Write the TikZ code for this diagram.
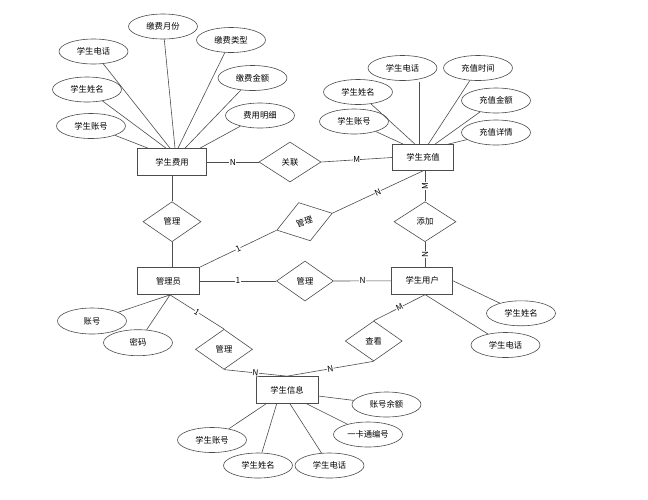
\documentclass[tikz,border=0pt]{standalone}
\usepackage{fontspec}
\setmainfont{Noto Sans CJK SC}
\usetikzlibrary{shapes.geometric}
\begin{document}
\begin{tikzpicture}[x=1pt,y=-1pt,
  every node/.style={font=\fontsize{8.3}{10}\selectfont},
  ent/.style={draw=black!70, line width=0.7pt, minimum width=62pt, minimum height=27pt, inner sep=0pt},
  attr/.style={ellipse, draw=black!70, line width=0.6pt, minimum width=69pt, minimum height=25pt, inner sep=0pt},
  rel/.style={diamond, draw=black!70, line width=0.6pt, minimum width=58pt, minimum height=40pt, inner sep=0pt},
  conn/.style={draw=black!70, line width=0.6pt},
  card/.style={inner sep=0.3pt, fill=white}
]
\useasboundingbox (0,0) rectangle (648,499);
% ---------- 学生费用 ----------
\node[ent, minimum width=69pt] (fee) at (172,162) {学生费用};
\node[attr] (f1) at (163,26.5) {缴费月份};
\node[attr] (f2) at (231,40) {缴费类型};
\node[attr] (f3) at (93.5,51.5) {学生电话};
\node[attr] (f4) at (87,89.5) {学生姓名};
\node[attr] (f5) at (252.5,78) {缴费金额};
\node[attr] (f6) at (91,126) {学生账号};
\node[attr] (f7) at (260,115.5) {费用明细};
\draw[conn] ([xshift=-24pt]fee.north) -- (f6);
\draw[conn] ([xshift=-6pt]fee.north) -- (f4);
\draw[conn] ([xshift=-2pt]fee.north) -- (f3);
\draw[conn] ([xshift=3pt]fee.north) -- (f1);
\draw[conn] ([xshift=6pt]fee.north) -- (f2);
\draw[conn] ([xshift=13pt]fee.north) -- (f5);
\draw[conn] ([xshift=28pt]fee.north) -- (f7);
% ---------- 关联 ----------
\node[rel, minimum width=62pt] (gl) at (290,162) {关联};
% ---------- 学生充值 ----------
\node[ent, minimum width=61pt, minimum height=26pt] (chz) at (423,157.5) {学生充值};
\node[attr] (c1) at (402.5,68) {学生电话};
\node[attr] (c2) at (478,68) {充值时间};
\node[attr] (c3) at (358,92) {学生姓名};
\node[attr] (c4) at (496,100.5) {充值金额};
\node[attr] (c5) at (354,121.5) {学生账号};
\node[attr] (c6) at (496,132.5) {充值详情};
\draw[conn] ([xshift=-19.7pt]chz.north) -- (c5);
\draw[conn] ([xshift=-8pt]chz.north) -- (c3);
\draw[conn] ([xshift=-3.7pt]chz.north) -- ([xshift=-3.7pt,yshift=-1.5pt]chz.north |- c1.south);
\draw[conn] ([xshift=5.3pt]chz.north) -- (c2);
\draw[conn] ([xshift=12pt]chz.north) -- (c4);
\draw[conn] ([xshift=25.3pt]chz.north) -- (c6);
\draw[conn] (fee.east) -- (gl.west) node[card, pos=0.5] {N};
\draw[conn] (gl.east) -- (chz.west) node[card, pos=0.5] {M};
% ---------- 管理员 ----------
\node[rel] (m1) at (172,221.7) {管理};
\node[ent] (adm) at (168.5,281) {管理员};
\draw[conn] (fee.south) -- (m1.north);
\draw[conn] (m1.south) -- (m1.south |- adm.north);
\node[rel, rotate=17] (m2) at (304.5,221.7) {管理};
\draw[conn] (adm.north east) -- (m2.west) node[card, sloped, pos=0.5] {1};
\draw[conn] (m2.east) -- (chz.south) node[card, sloped, pos=0.5] {N};
% ---------- 添加 ----------
\node[rel, minimum width=62pt] (tj) at (425,221.7) {添加};
\node[ent, minimum width=61pt] (user) at (422.2,280.8) {学生用户};
\draw[conn] (tj.north |- chz.south) -- (tj.north) node[card, pos=0.5, rotate=90] {M};
\draw[conn] (tj.south) -- (tj.south |- user.north) node[card, pos=0.5, rotate=90] {N};
% ---------- 管理 horizontal ----------
\node[rel, minimum width=57pt] (m3) at (305,281) {管理};
\draw[conn] (adm.east) -- (m3.west) node[card, pos=0.5] {1};
\draw[conn] (m3.east) -- (user.west) node[card, pos=0.5] {N};
% ---------- 学生用户 attributes ----------
\node[attr] (u1) at (521,313.3) {学生姓名};
\node[attr] (u2) at (505.5,345) {学生电话};
\draw[conn] (user.east) -- (u1);
\draw[conn] ([xshift=3pt]user.south) -- (u2);
% ---------- 管理员 attributes ----------
\node[attr, minimum height=26pt] (a1) at (92,321) {账号};
\node[attr, minimum height=26pt] (a2) at (138,342.7) {密码};
\draw[conn] ([xshift=1.5pt]adm.south) -- (a1);
\draw[conn] ([xshift=1.5pt]adm.south) -- (a2);
% ---------- 学生信息 ----------
\node[rel, minimum width=57pt] (m4) at (224,349.3) {管理};
\node[rel, minimum width=57pt] (ck) at (373.7,341) {查看};
\node[ent] (info) at (287,390) {学生信息};
\draw[conn] ([xshift=1.5pt]adm.south) -- (m4.north) node[card, sloped, pos=0.5] {1};
\draw[conn] (m4.south) -- (info.north) node[card, sloped, pos=0.5] {N};
\draw[conn] (ck.north) -- ([xshift=3pt]user.south) node[card, sloped, pos=0.5] {M};
\draw[conn] (ck.south) -- (info.north) node[card, sloped, pos=0.5] {N};
\node[attr] (i1) at (386.5,404.5) {账号余额};
\node[attr] (i2) at (368,434.5) {一卡通编号};
\node[attr] (i3) at (329.5,465.5) {学生电话};
\node[attr] (i4) at (258,465.5) {学生姓名};
\node[attr] (i5) at (212,440) {学生账号};
\draw[conn] ([yshift=-6pt]info.east) -- (i1);
\draw[conn] ([xshift=19.7pt]info.south) -- (i2);
\draw[conn] ([xshift=3pt]info.south) -- (i3);
\draw[conn] ([xshift=-10.3pt]info.south) -- (i4);
\draw[conn] ([xshift=-21pt]info.south) -- (i5);
\end{tikzpicture}
\end{document}
